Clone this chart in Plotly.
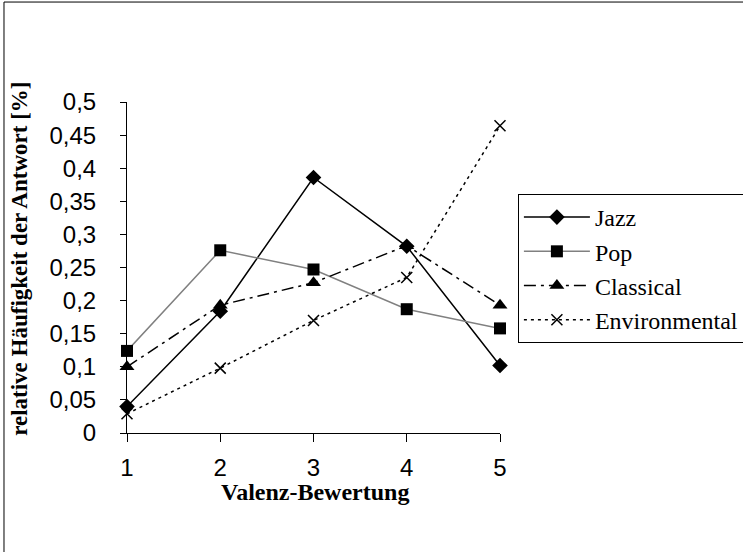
import plotly.graph_objects as go

categories = [1, 2, 3, 4, 5]
jazz = [0.040, 0.184, 0.386, 0.282, 0.102]
pop = [0.124, 0.276, 0.247, 0.187, 0.158]
classical = [0.100, 0.193, 0.227, 0.283, 0.193]
environmental = [0.029, 0.098, 0.170, 0.235, 0.464]

y_tickvals = [0, 0.05, 0.1, 0.15, 0.2, 0.25, 0.3, 0.35, 0.4, 0.45, 0.5]
y_ticktext = ["0", "0,05", "0,1", "0,15", "0,2", "0,25", "0,3", "0,35", "0,4", "0,45", "0,5"]
x_ticktext = ["1", "2", "3", "4", "5"]

SERIF = "Liberation Serif, Times New Roman, serif"
SANS = "Liberation Sans, Arial, sans-serif"

fig = go.Figure()
fig.add_trace(go.Scatter(
    x=categories, y=jazz, name="Jazz", mode="lines+markers", legendgroup="a",
    line=dict(color="black", width=1.5),
    marker=dict(symbol="diamond", size=12, color="black"), cliponaxis=False))
fig.add_trace(go.Scatter(
    x=categories, y=pop, name="Pop", mode="lines+markers", legendgroup="b",
    line=dict(color="#808080", width=1.5),
    marker=dict(symbol="square", size=12, color="black"), cliponaxis=False))
fig.add_trace(go.Scatter(
    x=categories, y=classical, name="Classical", mode="lines+markers", legendgroup="c",
    line=dict(color="black", width=1.5, dash="12px,5px,3px,5px"),
    marker=dict(symbol="triangle-up", size=13, color="black"), cliponaxis=False))
fig.add_trace(go.Scatter(
    x=categories, y=environmental, name="Environmental", mode="lines+markers", legendgroup="d",
    line=dict(color="black", width=1.5, dash="3px,4px"),
    marker=dict(symbol="x-thin", size=11, color="black", line=dict(color="black", width=1.5)),
    cliponaxis=False))

fig.update_layout(
    width=743, height=552,
    margin=dict(l=127, r=243, t=102, b=119, autoexpand=False),
    paper_bgcolor="white", plot_bgcolor="white",
    showlegend=True,
    legend=dict(x=1.048, y=0.722, xanchor="left", yanchor="top",
                bordercolor="black", borderwidth=1, itemwidth=66,
                font=dict(family=SERIF, size=24, color="black"),
                tracegroupgap=0, bgcolor="white"),
    xaxis=dict(range=[1, 5], tickvals=categories, ticktext=x_ticktext,
               showline=True, linecolor="black", linewidth=1,
               ticks="outside", ticklen=8, tickcolor="black",
               showgrid=False, zeroline=False, ticklabelstandoff=5,
               tickfont=dict(family=SANS, size=24, color="black")),
    yaxis=dict(range=[0, 0.5], tickvals=y_tickvals, ticktext=y_ticktext,
               showline=True, linecolor="black", linewidth=1,
               ticks="outside", ticklen=6, tickcolor="black",
               showgrid=False, zeroline=False, ticklabelstandoff=19,
               tickfont=dict(family=SANS, size=24, color="black")),
    annotations=[
        dict(text="<b>relative Häufigkeit der Antwort [%]</b>", xref="paper", yref="paper",
             x=-0.287, y=0.526, xanchor="center", yanchor="middle",
             textangle=-90, showarrow=False,
             font=dict(family=SERIF, size=23, color="black")),
        dict(text="<b>Valenz-Bewertung</b>", xref="paper", yref="paper",
             x=0.504, y=-0.178, xanchor="center", yanchor="middle", showarrow=False,
             font=dict(family=SERIF, size=24, color="black")),
    ],
    shapes=[dict(type="rect", xref="paper", yref="paper",
                 x0=-0.3298, y0=-2, x1=3, y1=1.302,
                 line=dict(color="black", width=1), layer="below")],
)

fig.write_html("out.html", config={"displayModeBar": False},
               post_script="document.body.style.margin='0';")
